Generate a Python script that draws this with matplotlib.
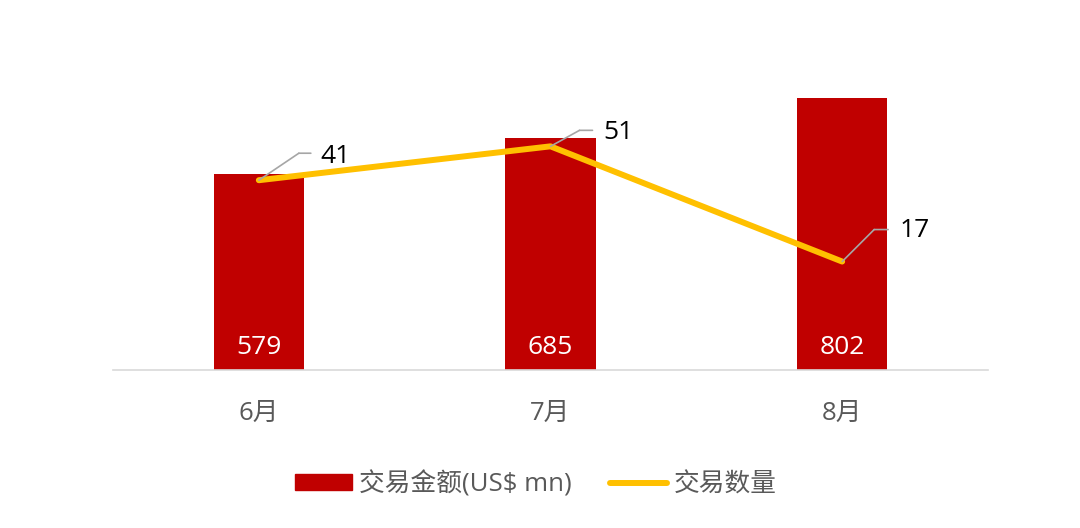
import matplotlib.pyplot as plt
from matplotlib.lines import Line2D
from matplotlib.patches import Patch
from matplotlib.transforms import ScaledTranslation

plt.rcParams['font.family'] = ['Open Sans', 'Noto Sans CJK SC']

months = ['6月', '7月', '8月']
amounts = [579, 685, 802]
deals = [41, 51, 17]

# leader offsets in pixels: elbow x, elbow y, end of horizontal x, text x, text y
leader_offsets = [(40, 27, 52, 62, 24), (29, 16, 42, 53, 14), (32, 32, 46, 57, 31)]

RED = '#C00000'
YELLOW = '#FFC000'
GRAY_TXT = '#595959'
LEADER = '#A6A6A6'

fig = plt.figure(figsize=(10.8, 5.28), dpi=100)
ax = fig.add_axes([113 / 1080, 1 - 370 / 528, 875 / 1080, 305 / 528])
ax2 = ax.twinx()

x = list(range(len(months)))
ax.bar(x, amounts, width=0.31, color=RED, zorder=2)
ax.set_xlim(-0.5, 2.5)
ax.set_ylim(0, 900)
ax2.set_ylim(-15, 75)

for xi, val in zip(x, amounts):
    ax.annotate(str(val), xy=(xi, 0), xytext=(0, 23), textcoords='offset pixels',
                ha='center', va='center', color='white', fontsize=19)

ax2.plot(x, deals, color=YELLOW, lw=4.3, solid_capstyle='round', solid_joinstyle='round', zorder=3)

lead = dict(arrowstyle='-', color=LEADER, lw=1.2, shrinkA=0, shrinkB=0)
for xi, val, (ex, ey, hx, tx, ty) in zip(x, deals, leader_offsets):
    ax2.annotate('', xy=(xi, val), xytext=(ex, ey), textcoords='offset pixels', arrowprops=lead)
    elbow = ax2.transData + ScaledTranslation(ex / fig.dpi, ey / fig.dpi, fig.dpi_scale_trans)
    ax2.annotate('', xy=(xi, val), xycoords=elbow, xytext=(hx - ex, 0), textcoords='offset pixels',
                 arrowprops=lead)
    ax2.annotate(str(val), xy=(xi, val), xytext=(tx, ty), textcoords='offset pixels',
                 ha='left', va='center', color='black', fontsize=19)

for a in (ax, ax2):
    for side in ('top', 'right', 'left'):
        a.spines[side].set_visible(False)
    a.set_yticks([])
ax2.spines['bottom'].set_visible(False)
ax.spines['bottom'].set_color('#D9D9D9')
ax.spines['bottom'].set_linewidth(1.2)

ax.set_xticks(x)
ax.set_xticklabels(months, color=GRAY_TXT, fontsize=18.5)
ax.tick_params(axis='x', length=0, pad=22)

handles = [Patch(facecolor=RED, edgecolor=RED, label='交易金额(US$ mn)'),
           Line2D([0], [0], color=YELLOW, lw=4.3, solid_capstyle='round', label='交易数量')]
leg = fig.legend(handles=handles, loc='center', bbox_to_anchor=(536 / 1080, 1 - 484 / 528), ncol=2,
                 frameon=False, fontsize=18.5, handlelength=2.2, handleheight=0.6,
                 handletextpad=0.28, columnspacing=1.5)
for t in leg.get_texts():
    t.set_color(GRAY_TXT)

fig.savefig('out.png', dpi=100)
